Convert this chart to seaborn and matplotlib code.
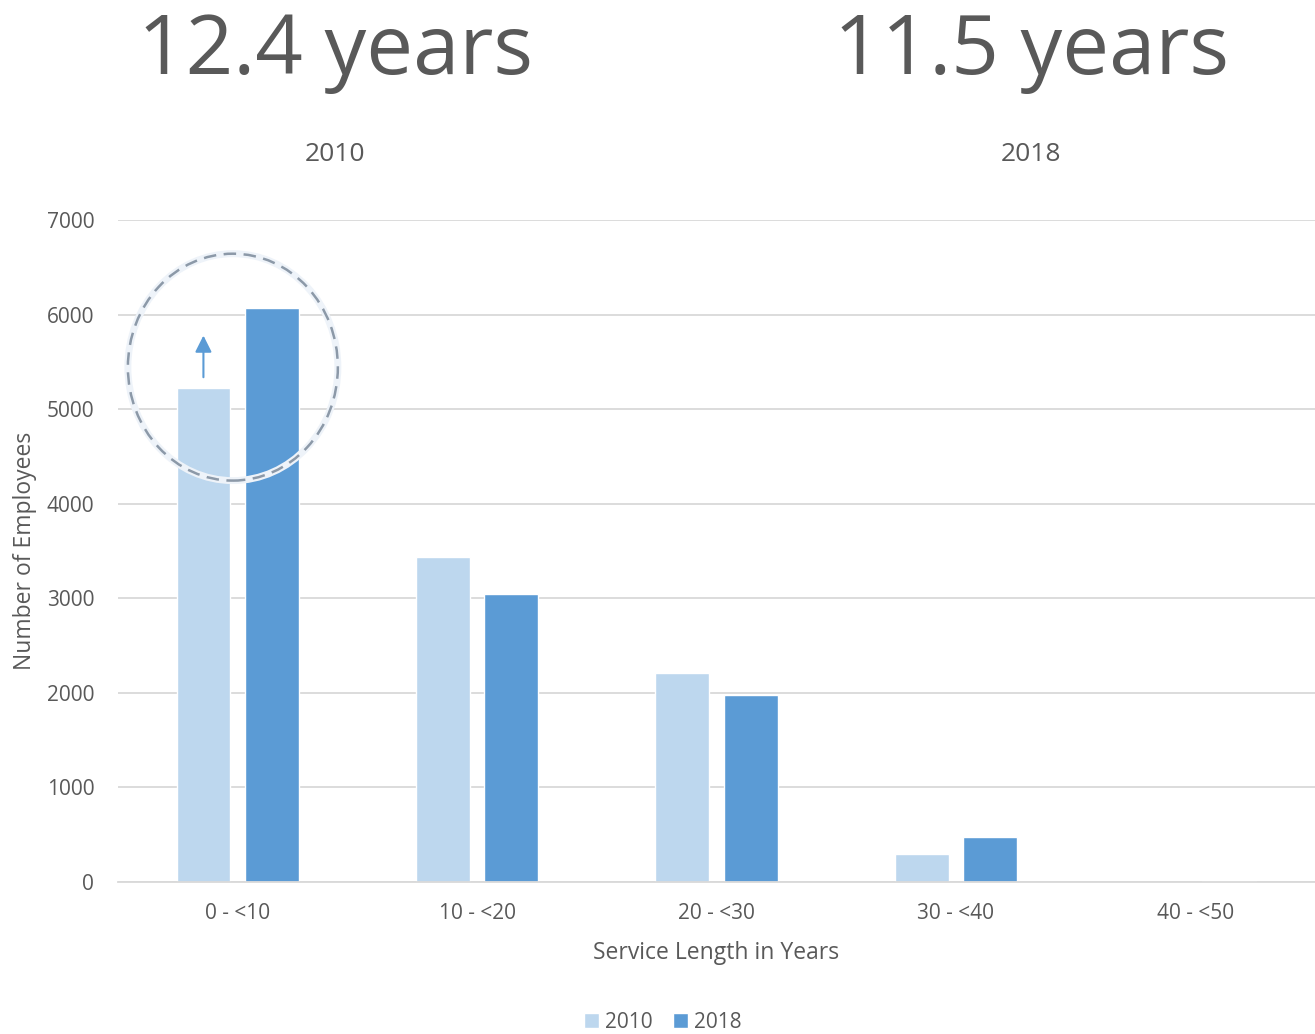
import pandas as pd
import seaborn as sns
import matplotlib.pyplot as plt
from matplotlib.patches import Ellipse

categories = ["0 - <10", "10 - <20", "20 - <30", "30 - <40", "40 - <50"]
years = ["2010", "2018"]
vals_2010 = [5230, 3440, 2210, 296, 3]
vals_2018 = [6070, 3045, 1977, 476, 12]
avg_tenure = ["12.4 years", "11.5 years"]

df = pd.DataFrame({
    "Service Length in Years": categories * 2,
    "Number of Employees": vals_2010 + vals_2018,
    "Year": [years[0]] * len(categories) + [years[1]] * len(categories),
})

sns.set_theme(style="white")
plt.rcParams["font.family"] = ["Open Sans", "DejaVu Sans"]
grey = "#595959"

fig = plt.figure(figsize=(13.15, 10.34), dpi=100)
ax = fig.add_axes([0.0897, 0.147, 0.9103, 0.640])

sns.barplot(data=df, x="Service Length in Years", y="Number of Employees",
            hue="Year", palette=["#BDD7EE", "#5B9BD5"], width=0.57, gap=0.21,
            saturation=1, ax=ax)

ax.set_ylim(0, 7000)
ax.set_xlim(-0.5, 4.5)
ax.set_yticks(range(0, 7001, 1000))
ax.yaxis.grid(True, color="#D9D9D9", linewidth=1.3)
ax.set_axisbelow(True)
for s in ["top", "right", "left"]:
    ax.spines[s].set_visible(False)
ax.spines["bottom"].set_color("#D9D9D9")
ax.spines["bottom"].set_linewidth(1.3)
ax.tick_params(axis="both", length=0, labelsize=15, labelcolor=grey)
ax.tick_params(axis="y", pad=17)
ax.tick_params(axis="x", pad=15)
ax.set_xlabel("Service Length in Years", fontsize=16.5, color=grey, labelpad=12)
ax.set_ylabel("Number of Employees", fontsize=16.5, color=grey)
ax.yaxis.set_label_coords(-0.068, 0.5)

# highlight circle and arrow
ax.add_patch(Ellipse((-0.02, 5446), 0.877, 2400, fill=False, edgecolor="#EEF3F9",
                     linewidth=5, zorder=4))
ax.add_patch(Ellipse((-0.02, 5446), 0.877, 2400, fill=False, edgecolor="#8C99A8",
                     linewidth=1.8, linestyle=(0, (5, 3)), zorder=5))
ax.annotate("", xy=(-0.143, 5810), xytext=(-0.143, 5310),
            arrowprops=dict(arrowstyle="-|>", color="#5B9BD5", lw=1.5,
                            mutation_scale=25), zorder=6)

# headline numbers
for x, big, yr in [(335, avg_tenure[0], years[0]), (1031, avg_tenure[1], years[1])]:
    fig.text(x / 1315, 1 - 74 / 1034, big, fontsize=60, color=grey,
             ha="center", va="baseline")
    fig.text(x / 1315, 1 - 161 / 1034, yr, fontsize=19, color=grey,
             ha="center", va="baseline")

handles, labels = ax.get_legend_handles_labels()
ax.legend(handles, labels, loc="center", bbox_to_anchor=(663 / 1315, 1 - 1022 / 1034),
          bbox_transform=fig.transFigure, ncol=2, frameon=False, fontsize=15,
          handlelength=0.7, handleheight=0.7, handletextpad=0.3, columnspacing=1.0,
          labelcolor=grey)

fig.savefig("out.png", dpi=100)
